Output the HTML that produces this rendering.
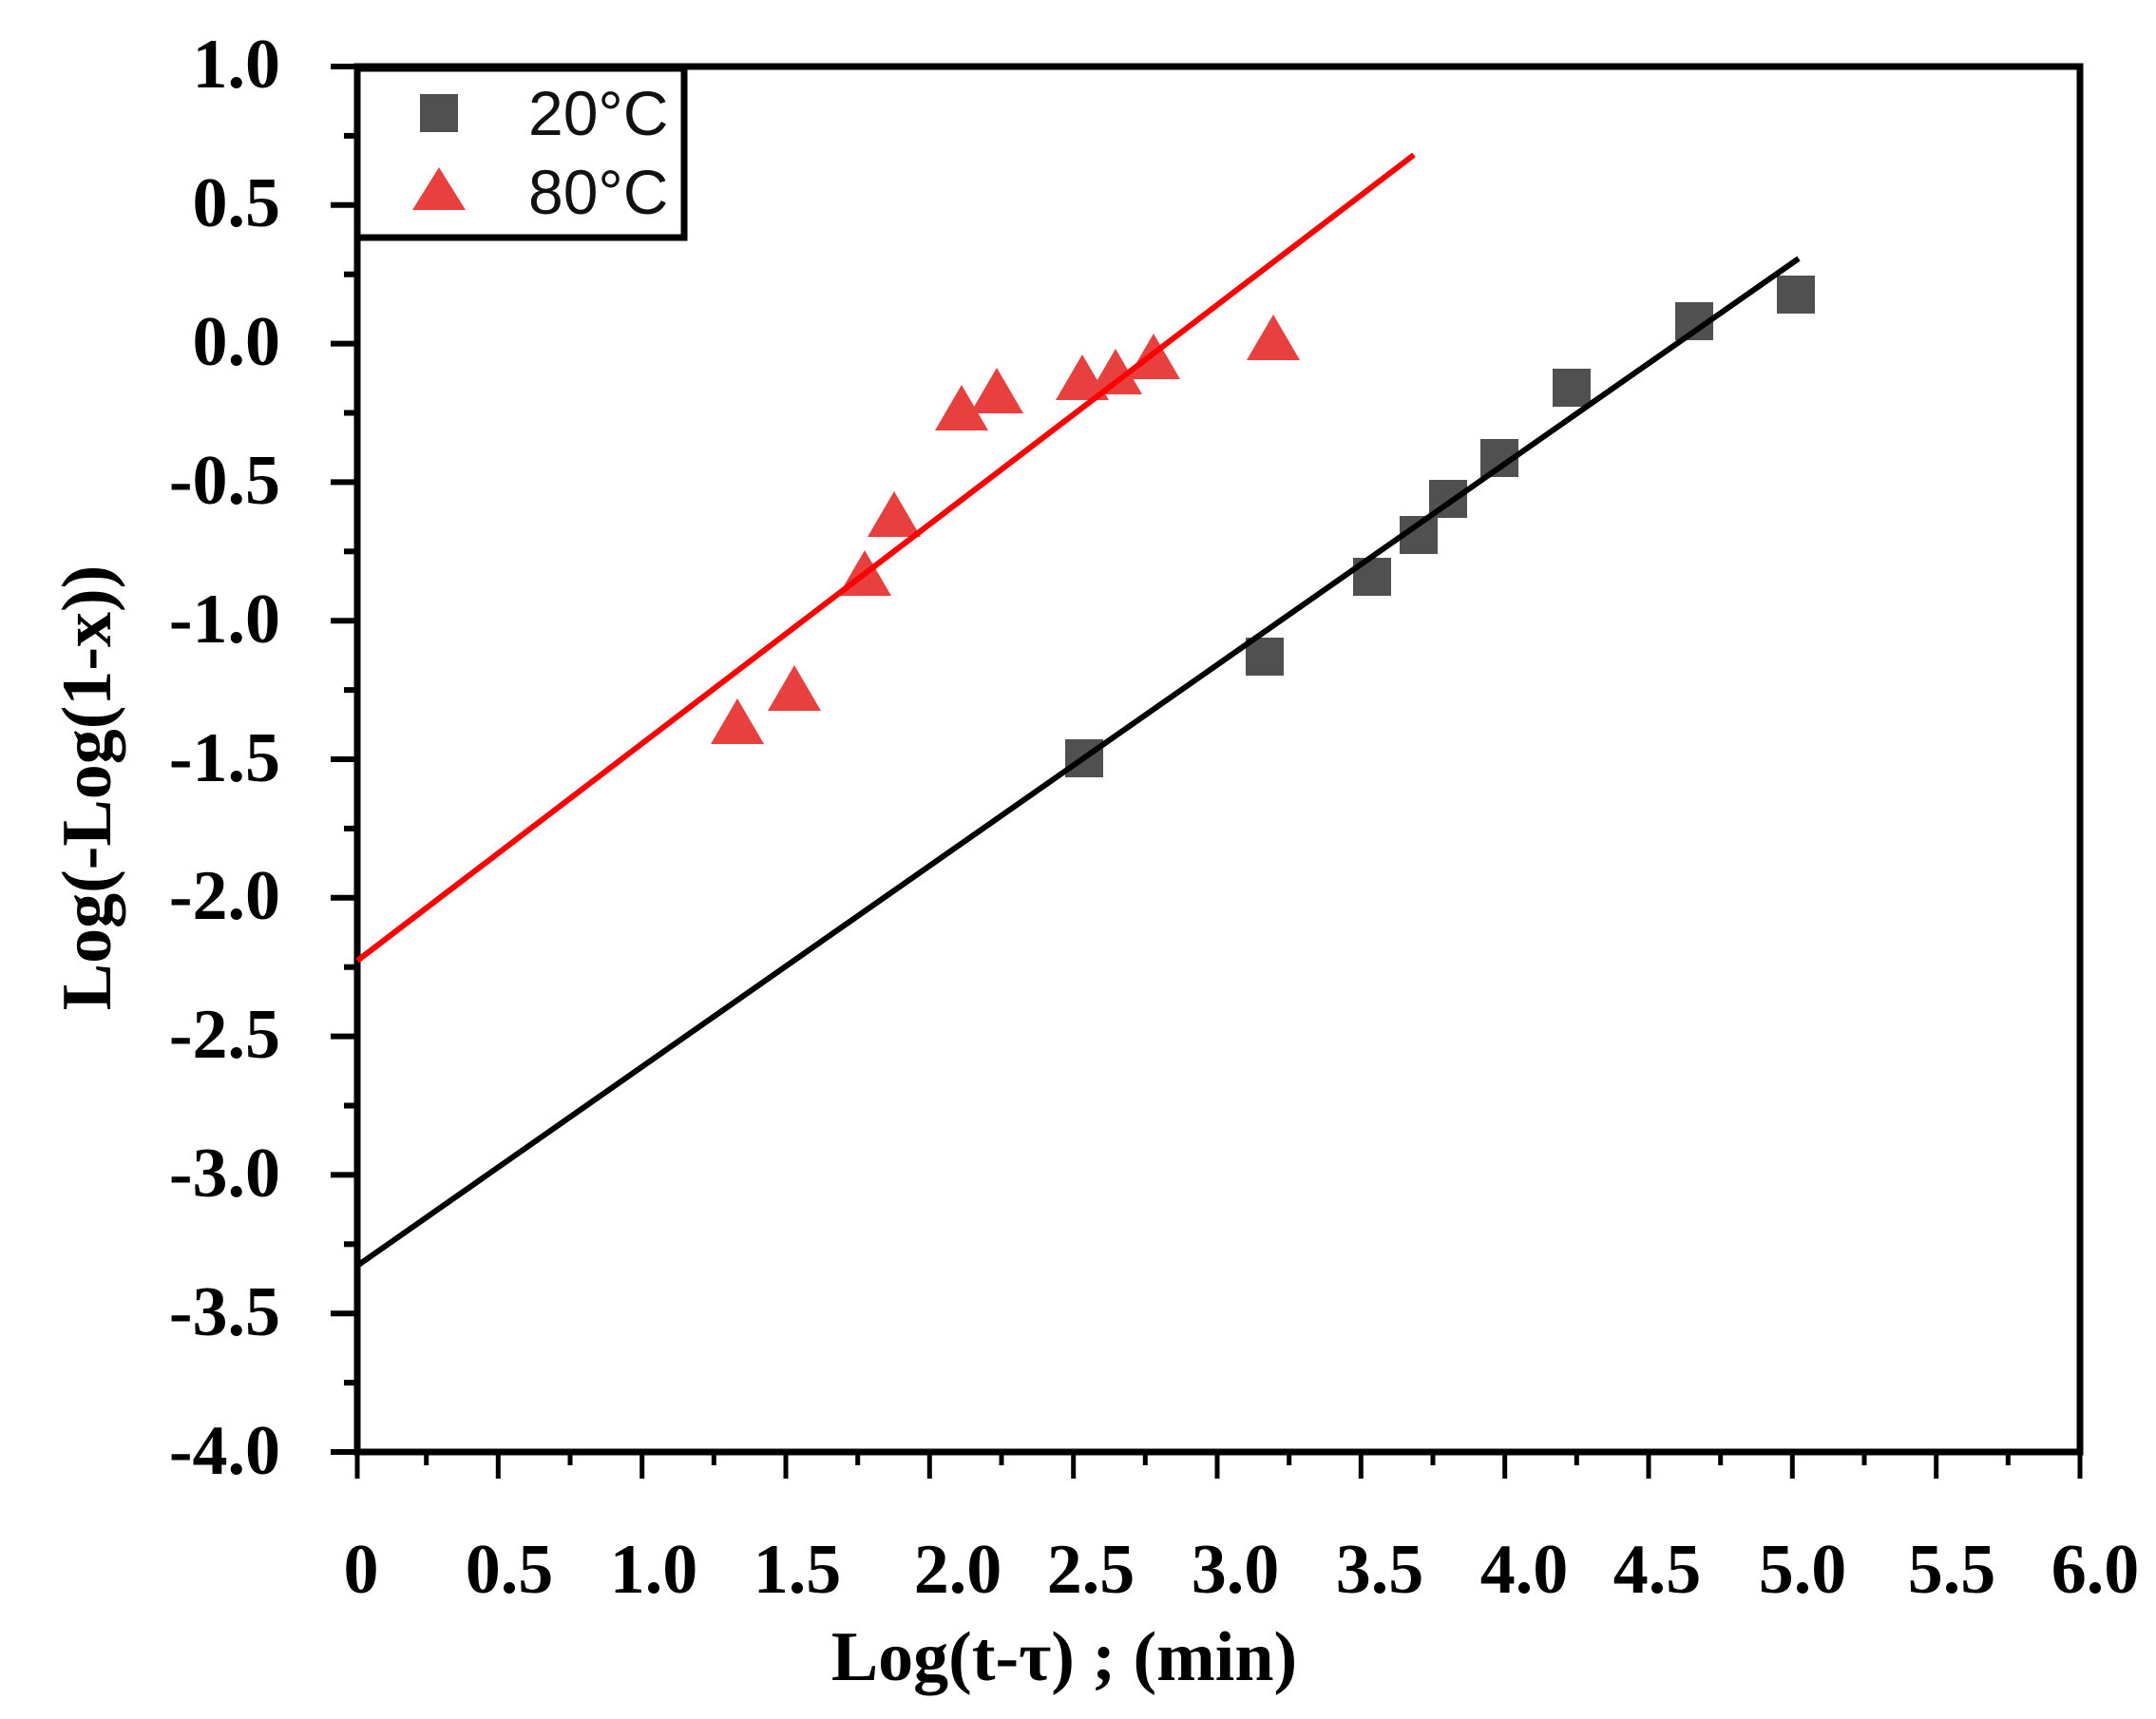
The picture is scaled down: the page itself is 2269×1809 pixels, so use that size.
<!DOCTYPE html>
<html><head><meta charset="utf-8"><style>
html,body{margin:0;padding:0;background:#fff;}
svg{display:block;}
.t{font-family:"Liberation Serif",serif;font-weight:bold;font-size:74px;fill:#000;}
.l{font-family:"Liberation Sans",sans-serif;font-size:66px;fill:#111;}
</style></head><body>
<svg width="2269" height="1809" viewBox="0 0 2269 1809" xmlns="http://www.w3.org/2000/svg">
<defs>
<rect id="sq" x="-20" y="-20" width="40" height="40" fill="#505050"/>
<polygon id="tr" points="0,-27 -28,21 28,21" fill="#e8403f"/>
</defs>
<g stroke="#000" stroke-width="6">
<line x1="348" y1="70" x2="376" y2="70"/><line x1="348" y1="215.8" x2="376" y2="215.8"/><line x1="348" y1="361.6" x2="376" y2="361.6"/><line x1="348" y1="507.4" x2="376" y2="507.4"/><line x1="348" y1="653.2" x2="376" y2="653.2"/><line x1="348" y1="799" x2="376" y2="799"/><line x1="348" y1="944.8" x2="376" y2="944.8"/><line x1="348" y1="1090.6" x2="376" y2="1090.6"/><line x1="348" y1="1236.4" x2="376" y2="1236.4"/><line x1="348" y1="1382.2" x2="376" y2="1382.2"/><line x1="348" y1="1528" x2="376" y2="1528"/>
<line x1="362" y1="142.9" x2="376" y2="142.9"/><line x1="362" y1="288.7" x2="376" y2="288.7"/><line x1="362" y1="434.5" x2="376" y2="434.5"/><line x1="362" y1="580.3" x2="376" y2="580.3"/><line x1="362" y1="726.1" x2="376" y2="726.1"/><line x1="362" y1="871.9" x2="376" y2="871.9"/><line x1="362" y1="1017.7" x2="376" y2="1017.7"/><line x1="362" y1="1163.5" x2="376" y2="1163.5"/><line x1="362" y1="1309.3" x2="376" y2="1309.3"/><line x1="362" y1="1455.1" x2="376" y2="1455.1"/>
</g>
<g stroke="#000" stroke-width="5">
<line x1="376" y1="1528" x2="376" y2="1556"/><line x1="524.3" y1="1528" x2="524.3" y2="1556"/><line x1="675.7" y1="1528" x2="675.7" y2="1556"/><line x1="827" y1="1528" x2="827" y2="1556"/><line x1="978.3" y1="1528" x2="978.3" y2="1556"/><line x1="1129.7" y1="1528" x2="1129.7" y2="1556"/><line x1="1281" y1="1528" x2="1281" y2="1556"/><line x1="1432.3" y1="1528" x2="1432.3" y2="1556"/><line x1="1583.7" y1="1528" x2="1583.7" y2="1556"/><line x1="1735" y1="1528" x2="1735" y2="1556"/><line x1="1886.3" y1="1528" x2="1886.3" y2="1556"/><line x1="2037.7" y1="1528" x2="2037.7" y2="1556"/><line x1="2189" y1="1528" x2="2189" y2="1556"/>
<line x1="448.7" y1="1528" x2="448.7" y2="1542"/><line x1="600" y1="1528" x2="600" y2="1542"/><line x1="751.3" y1="1528" x2="751.3" y2="1542"/><line x1="902.7" y1="1528" x2="902.7" y2="1542"/><line x1="1054" y1="1528" x2="1054" y2="1542"/><line x1="1205.3" y1="1528" x2="1205.3" y2="1542"/><line x1="1356.7" y1="1528" x2="1356.7" y2="1542"/><line x1="1508" y1="1528" x2="1508" y2="1542"/><line x1="1659.3" y1="1528" x2="1659.3" y2="1542"/><line x1="1810.7" y1="1528" x2="1810.7" y2="1542"/><line x1="1962" y1="1528" x2="1962" y2="1542"/><line x1="2113.3" y1="1528" x2="2113.3" y2="1542"/>
</g>
<rect x="376" y="70" width="1813" height="1458" fill="none" stroke="#000" stroke-width="7"/>
<g class="t" text-anchor="end">
<text x="295" y="92">1.0</text><text x="295" y="238">0.5</text><text x="295" y="384">0.0</text><text x="295" y="530">-0.5</text><text x="295" y="676">-1.0</text><text x="295" y="822">-1.5</text><text x="295" y="967">-2.0</text><text x="295" y="1113">-2.5</text><text x="295" y="1259">-3.0</text><text x="295" y="1405">-3.5</text><text x="295" y="1551">-4.0</text>
</g>
<g class="t" text-anchor="middle">
<text x="380" y="1676">0</text><text x="536" y="1676">0.5</text><text x="688" y="1676">1.0</text><text x="839" y="1676">1.5</text><text x="1008" y="1676">2.0</text><text x="1148" y="1676">2.5</text><text x="1300" y="1676">3.0</text><text x="1452" y="1676">3.5</text><text x="1604" y="1676">4.0</text><text x="1744" y="1676">4.5</text><text x="1897" y="1676">5.0</text><text x="2054" y="1676">5.5</text><text x="2205" y="1676">6.0</text>
</g>
<text class="t" x="1120" y="1768" text-anchor="middle" font-size="94">Log(t-τ) ; (min)</text>
<text class="t" transform="translate(116,829) rotate(-90)" text-anchor="middle" font-size="94">Log(-Log(1-x))</text>
<use href="#sq" x="1141" y="798"/><use href="#sq" x="1331" y="691"/><use href="#sq" x="1444" y="607"/><use href="#sq" x="1493" y="563"/><use href="#sq" x="1524" y="525"/><use href="#sq" x="1578" y="482"/><use href="#sq" x="1654" y="408"/><use href="#sq" x="1783" y="338"/><use href="#sq" x="1890" y="310"/>
<use href="#tr" x="776" y="762"/><use href="#tr" x="836" y="727"/><use href="#tr" x="910" y="606"/><use href="#tr" x="941" y="544"/><use href="#tr" x="1012" y="432"/><use href="#tr" x="1049" y="414"/><use href="#tr" x="1139" y="400"/><use href="#tr" x="1174" y="394"/><use href="#tr" x="1214" y="378"/><use href="#tr" x="1340" y="358"/>
<line x1="376" y1="1332" x2="1893" y2="272" stroke="#000" stroke-width="6"/>
<line x1="376" y1="1011" x2="1488" y2="163" stroke="#ff0000" stroke-width="6"/>
<rect x="376" y="72" width="344" height="178" fill="#fff" stroke="#000" stroke-width="7"/>
<rect x="442" y="99" width="40" height="40" fill="#505050"/>
<polygon points="462,176 434,221 490,221" fill="#e8403f"/>
<text class="l" x="556" y="142">20°C</text>
<text class="l" x="556" y="225">80°C</text>
</svg>
</body></html>
